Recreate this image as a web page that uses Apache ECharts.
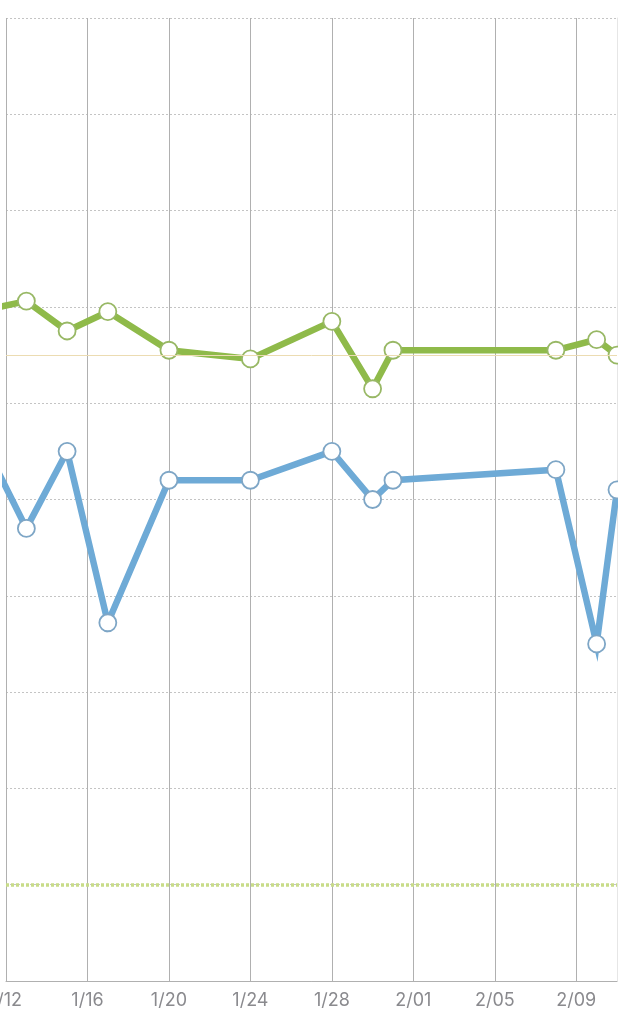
<!DOCTYPE html>
<html>
<head>
<meta charset="utf-8">
<script src="https://cdn.jsdelivr.net/npm/echarts@6/dist/echarts.min.js"></script>
<style>
html,body{margin:0;padding:0;background:#fff;}
#chart{width:618px;height:1024px;}
</style>
</head>
<body>
<div id="chart"></div>
<script>
// ---- data ----
const dates = ['1/11','1/13','1/15','1/17','1/20','1/24','1/28','1/30','1/31','2/08','2/10','2/11'];
const greenValues = [69.7, 70.6, 67.5, 69.5, 65.5, 64.6, 68.5, 61.5, 65.5, 65.5, 66.6, 65.0];
const blueValues  = [55.5, 47.0, 55.0, 37.2, 52.0, 52.0, 55.0, 50.0, 52.0, 53.1, 35.0, 51.0];
const tickLabels = ['1/12','1/16','1/20','1/24','1/28','2/01','2/05','2/09'];
const xStart = '1/12';
const xEnd = '2/11';
const referenceHigh = 65;
const referenceLow = 10;

// ---- helpers ----
function dayOffset(s) {
  const [m, d] = s.split('/').map(Number);
  const [m0, d0] = xStart.split('/').map(Number);
  const t = Date.UTC(2024, m - 1, d), t0 = Date.UTC(2024, m0 - 1, d0);
  return Math.round((t - t0) / 86400000);
}
const labelByOffset = {};
tickLabels.forEach(l => { labelByOffset[dayOffset(l)] = l; });

const greenData = dates.map((d, i) => [dayOffset(d), greenValues[i]]);
const blueData = dates.map((d, i) => [dayOffset(d), blueValues[i]]);

const chart = echarts.init(document.getElementById('chart'), null, {renderer: 'canvas'});
chart.setOption({
  animation: false,
  backgroundColor: '#ffffff',
  grid: {left: 6, right: 1, top: 18, bottom: 43, containLabel: false, outerBoundsMode: 'none'},
  xAxis: {
    type: 'value',
    min: 0,
    max: dayOffset(xEnd),
    interval: 4,
    axisLine: {show: true, lineStyle: {color: '#b0b0b0', width: 1}},
    axisTick: {show: false},
    axisLabel: {
      color: '#8a8a8e', fontSize: 18, fontFamily: 'Inter, Roboto, sans-serif', margin: 11,
      showMaxLabel: false, showMinLabel: true, hideOverlap: false,
      formatter: v => labelByOffset[v] || ''
    },
    splitLine: {show: true, lineStyle: {color: '#b0b0b0', width: 1, type: 'solid'}}
  },
  yAxis: [{
    type: 'value',
    min: 0, max: 100, interval: 10,
    axisLine: {show: false},
    axisTick: {show: false},
    axisLabel: {show: false},
    splitLine: {show: true, lineStyle: {color: '#c4c4c4', width: 1, type: [2, 2]}}
  }, {
    type: 'value', position: 'right',
    min: 0, max: 100,
    axisLine: {show: true, lineStyle: {color: '#e6e6e6', width: 1}},
    axisTick: {show: false}, axisLabel: {show: false}, splitLine: {show: false}
  }],
  series: [{
    type: 'line',
    data: greenData,
    clip: true,
    symbol: 'circle',
    symbolSize: 17,
    showAllSymbol: true,
    lineStyle: {color: '#8fba4a', width: 6.5, join: 'miter', miterLimit: 10},
    itemStyle: {color: '#ffffff', borderColor: '#98b865', borderWidth: 1.8},
    z: 4,
    markLine: {
      silent: true, symbol: 'none', label: {show: false},
      data: [
        {yAxis: referenceHigh, lineStyle: {color: '#ecdcb2', width: 1, type: 'solid'}},
        {yAxis: referenceLow, lineStyle: {color: '#c8dc88', width: 3.5, type: [3, 2]}}
      ]
    }
  }, {
    type: 'line',
    data: blueData,
    clip: true,
    symbol: 'circle',
    symbolSize: 17,
    showAllSymbol: true,
    lineStyle: {color: '#6eaad6', width: 6.5, join: 'miter', miterLimit: 10},
    itemStyle: {color: '#ffffff', borderColor: '#7ea6c6', borderWidth: 1.8},
    z: 4
  }]
});
</script>
</body>
</html>
